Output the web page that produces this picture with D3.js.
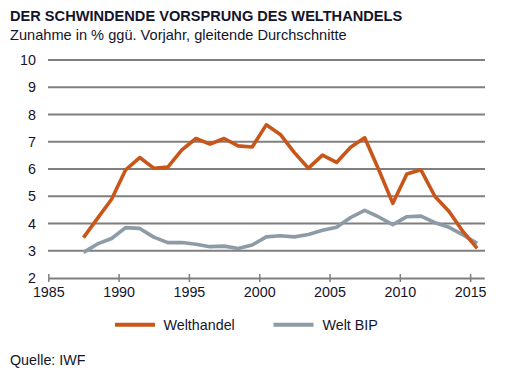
<!DOCTYPE html>
<html><head><meta charset="utf-8">
<script src="https://cdn.jsdelivr.net/npm/d3@7"></script>
<style>body{margin:0;background:#fff}svg{display:block}text{font-family:"Liberation Sans",Arial,sans-serif;fill:#14142b}</style>
</head><body>
<script>
const years = [1987,1988,1989,1990,1991,1992,1993,1994,1995,1996,1997,1998,1999,2000,2001,2002,2003,2004,2005,2006,2007,2008,2009,2010,2011,2012,2013,2014,2015];
const welthandel = [3.48,4.19,4.89,5.97,6.42,6.03,6.07,6.7,7.12,6.91,7.12,6.85,6.81,7.62,7.27,6.6,6.03,6.51,6.24,6.8,7.15,5.97,4.74,5.82,5.97,4.99,4.44,3.7,3.09];
const weltBIP = [2.94,3.25,3.45,3.85,3.82,3.5,3.3,3.3,3.24,3.15,3.17,3.08,3.21,3.51,3.55,3.51,3.6,3.75,3.86,4.22,4.48,4.24,3.96,4.25,4.27,4.03,3.86,3.58,3.27];
const yTicks = [2,3,4,5,6,7,8,9,10];
const xTicks = [1985,1990,1995,2000,2005,2010,2015];
const seriesNames = ["Welthandel","Welt BIP"];
const colors = ["#c8561b","#8c9ba6"];

const W=509,H=375;
const svg=d3.select("body").append("svg").attr("width",W).attr("height",H);
const x=d3.scaleLinear().domain([1985,2016]).range([48.3,484.2]);
const y=d3.scaleLinear().domain([2,10]).range([278,60]);

svg.append("text").attr("x",10).attr("y",20.5).attr("font-size",14.6).attr("font-weight","bold").text("DER SCHWINDENDE VORSPRUNG DES WELTHANDELS");
svg.append("text").attr("x",10).attr("y",39.5).attr("font-size",14.6).text("Zunahme in % ggü. Vorjahr, gleitende Durchschnitte");

// grid
svg.append("g").selectAll("line").data(yTicks.filter(d=>d>2)).join("line")
 .attr("x1",48).attr("x2",485).attr("y1",d=>y(d)).attr("y2",d=>y(d))
 .attr("stroke","#7f7f7f").attr("stroke-width",2);
// y labels
svg.append("g").selectAll("text").data(yTicks).join("text")
 .attr("x",36).attr("y",d=>y(d)+5).attr("text-anchor","end").attr("font-size",14.3).text(d=>d);
// x axis
const xa=svg.append("g").attr("transform",`translate(0,${y(2)})`)
 .call(d3.axisBottom(x).tickValues(xTicks).tickFormat(d3.format("d")).tickSize(4).tickSizeOuter(0));
xa.select(".domain").attr("stroke","#7f7f7f").attr("stroke-width",2);
xa.selectAll(".tick line").attr("stroke","#7f7f7f").attr("stroke-width",1.5).attr("y1",-4).attr("y2",4);
xa.selectAll(".tick text").attr("font-size",14.3).attr("y",9).attr("font-family","Liberation Sans, Arial, sans-serif").attr("fill","#14142b");

const line=d3.line().x((d,i)=>x(years[i]+0.5)).y(d=>y(d));
[weltBIP,welthandel].forEach((s,k)=>{
  svg.append("path").datum(s).attr("d",line).attr("fill","none")
   .attr("stroke",k===0?colors[1]:colors[0]).attr("stroke-width",3.6).attr("stroke-linejoin","round");
});

// legend
const lg=[{x:115,tx:163.5},{x:273.5,tx:322.5}];
seriesNames.forEach((n,i)=>{
  svg.append("line").attr("x1",lg[i].x).attr("x2",lg[i].x+40).attr("y1",324.7).attr("y2",324.7).attr("stroke",colors[i]).attr("stroke-width",4);
  svg.append("text").attr("x",lg[i].tx).attr("y",330).attr("font-size",14.3).text(n);
});
svg.append("text").attr("x",10).attr("y",364.5).attr("font-size",14.3).text("Quelle: IWF");
</script>
</body></html>
